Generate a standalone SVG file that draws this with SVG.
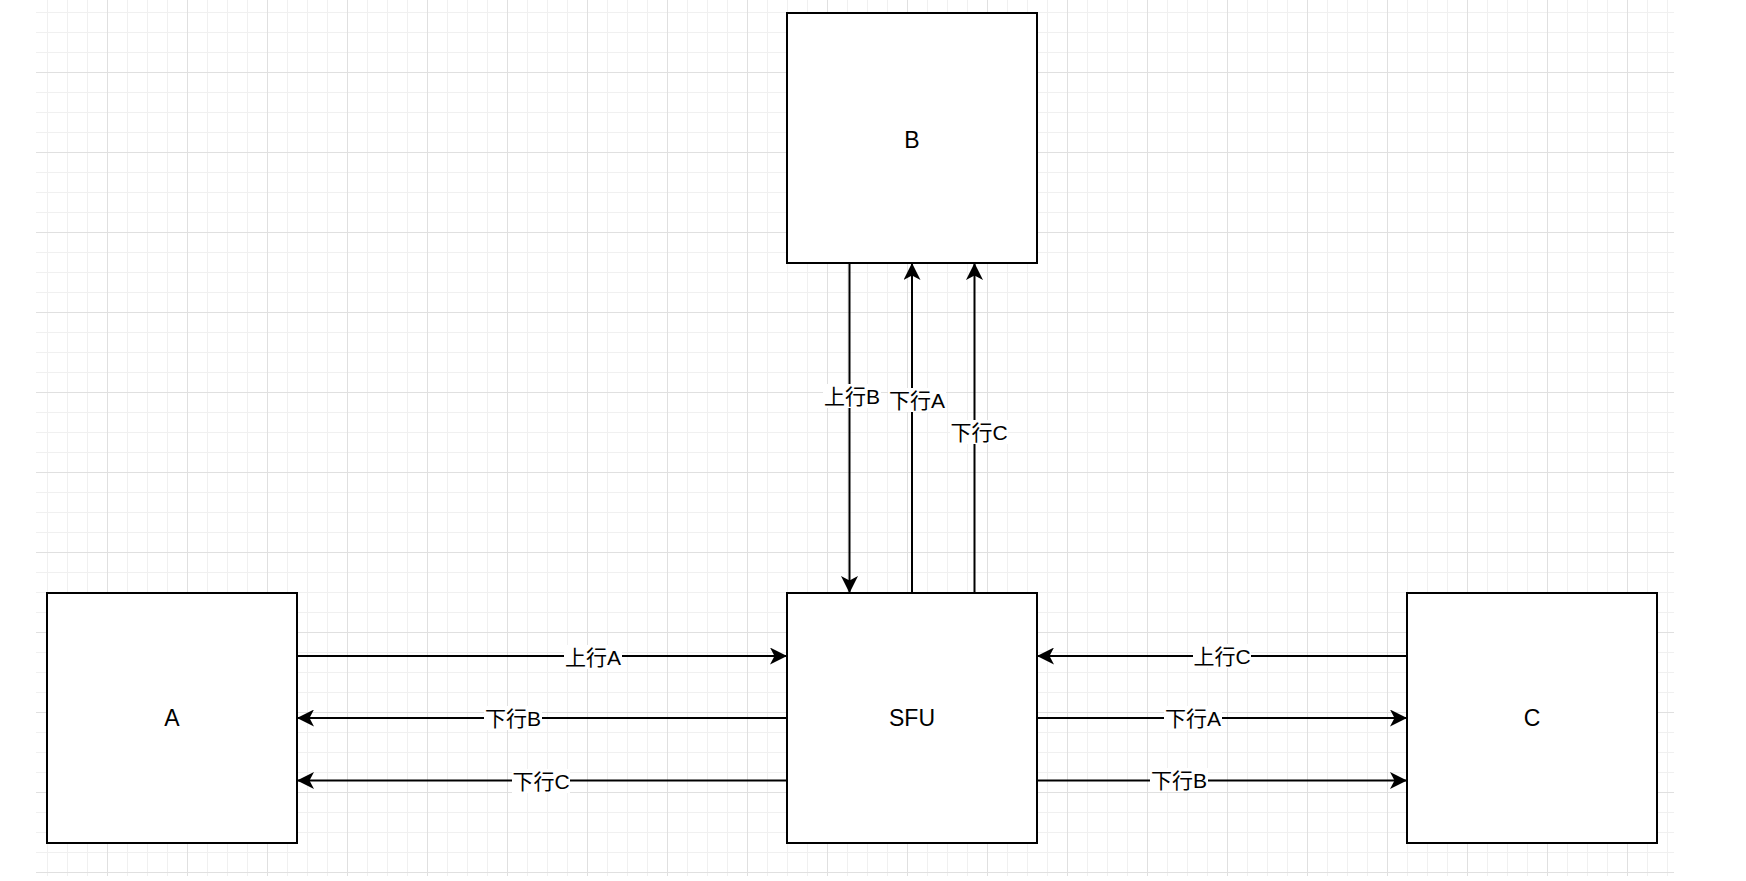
<svg xmlns="http://www.w3.org/2000/svg" width="1746" height="881" viewBox="0 0 1746 881">
<style>
.node{fill:#ffffff;stroke:#000000;stroke-width:2}
.nlabel{font-family:"Liberation Sans","Noto Sans CJK SC",sans-serif;font-size:23px;fill:#000000;text-anchor:middle}
.edge{stroke:#000000;stroke-width:2;fill:none;marker-end:url(#arrow)}
.elabel{font-family:"Liberation Sans","Noto Sans CJK SC",sans-serif;font-size:21px;fill:#000000;text-anchor:middle}
.lbg{fill:#ffffff}
</style>
<defs>
<pattern id="grid" patternUnits="userSpaceOnUse" x="27" y="-8" width="80" height="80">
<rect x="0" y="0" width="80" height="80" fill="#ffffff"/>
<rect x="20" y="0" width="1" height="80" fill="#f0f0f0"/>
<rect x="40" y="0" width="1" height="80" fill="#f0f0f0"/>
<rect x="60" y="0" width="1" height="80" fill="#f0f0f0"/>
<rect x="0" y="20" width="80" height="1" fill="#f0f0f0"/>
<rect x="0" y="40" width="80" height="1" fill="#f0f0f0"/>
<rect x="0" y="60" width="80" height="1" fill="#f0f0f0"/>
<rect x="0" y="0" width="1" height="80" fill="#e0e0e0"/>
<rect x="0" y="0" width="80" height="1" fill="#e0e0e0"/>
</pattern>
<marker id="arrow" markerUnits="userSpaceOnUse" viewBox="0 0 17 17" refX="17" refY="8.5" markerWidth="17" markerHeight="17" orient="auto">
<path d="M17,8.5 L0,0 L4.5,8.5 L0,17 Z" fill="#000000"/>
</marker>
</defs>
<rect x="0" y="0" width="1746" height="881" fill="#ffffff"/>
<rect x="36" y="0" width="1638" height="876" fill="url(#grid)"/>

<g id="connectors">
<line class="edge" x1="849.5" y1="263" x2="849.5" y2="593"/>
<line class="edge" x1="912" y1="593" x2="912" y2="263"/>
<line class="edge" x1="974.5" y1="593" x2="974.5" y2="263"/>
<line class="edge" x1="297" y1="656" x2="787" y2="656"/>
<line class="edge" x1="787" y1="718" x2="297" y2="718"/>
<line class="edge" x1="787" y1="780.5" x2="297" y2="780.5"/>
<line class="edge" x1="1407" y1="656" x2="1037" y2="656"/>
<line class="edge" x1="1037" y1="718" x2="1407" y2="718"/>
<line class="edge" x1="1037" y1="780.5" x2="1407" y2="780.5"/>
<g id="edge-labels">
<rect class="lbg" x="823" y="384" width="58" height="24"/>
<text class="elabel" x="852" y="403.5">上行B</text>
<rect class="lbg" x="888" y="388" width="58" height="24"/>
<text class="elabel" x="917" y="407.5">下行A</text>
<rect class="lbg" x="950" y="420" width="58" height="24"/>
<text class="elabel" x="979" y="439.5">下行C</text>
<rect class="lbg" x="564" y="645" width="58" height="24"/>
<text class="elabel" x="593" y="664.5">上行A</text>
<rect class="lbg" x="484" y="706" width="58" height="24"/>
<text class="elabel" x="513" y="725.5">下行B</text>
<rect class="lbg" x="512" y="769" width="58" height="24"/>
<text class="elabel" x="541" y="788.5">下行C</text>
<rect class="lbg" x="1193" y="644" width="58" height="24"/>
<text class="elabel" x="1222" y="663.5">上行C</text>
<rect class="lbg" x="1164" y="706" width="58" height="24"/>
<text class="elabel" x="1193" y="725.5">下行A</text>
<rect class="lbg" x="1150" y="768" width="58" height="24"/>
<text class="elabel" x="1179" y="787.5">下行B</text>
</g>
</g>

<g id="node-B">
<rect class="node" x="787" y="13" width="250" height="250"/>
<text class="nlabel" x="912" y="148">B</text>
</g>
<g id="node-A">
<rect class="node" x="47" y="593" width="250" height="250"/>
<text class="nlabel" x="172" y="726">A</text>
</g>
<g id="node-SFU">
<rect class="node" x="787" y="593" width="250" height="250"/>
<text class="nlabel" x="912" y="726">SFU</text>
</g>
<g id="node-C">
<rect class="node" x="1407" y="593" width="250" height="250"/>
<text class="nlabel" x="1532" y="726">C</text>
</g>
</svg>
